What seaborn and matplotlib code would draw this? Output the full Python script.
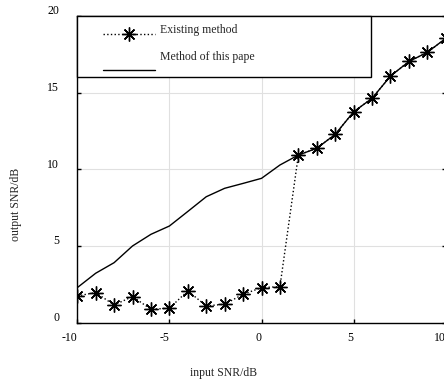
import numpy as np
import pandas as pd
import seaborn as sns
import matplotlib.pyplot as plt
from matplotlib.patches import Rectangle
from matplotlib.transforms import ScaledTranslation

# values
input_snr = list(range(-10, 11))
existing_method = [1.74, 1.96, 1.15, 1.70, 0.87, 0.94, 2.07, 1.09, 1.20, 1.85, 2.28,
                   2.35, 10.93, 11.37, 12.28, 13.75, 14.63, 16.08, 17.03, 17.63, 18.54]
this_method = [2.28, 3.22, 3.91, 5.00, 5.76, 6.30, 7.25, 8.21, 8.76, 9.08, 9.41,
               10.28, 10.93, 11.37, 12.28, 13.75, 14.63, 16.08, 17.03, 17.63, 18.54]
x_ticks = [-10, -5, 0, 5, 10]
y_ticks = [0, 5, 10, 15, 20]
labels = ["Existing method", "Method of this pape"]

sns.set_style("white")
plt.rcParams['font.family'] = ['Liberation Serif', 'DejaVu Serif']
plt.rcParams['font.size'] = 8.5

df = pd.DataFrame({"snr": input_snr, "existing": existing_method, "proposed": this_method})

fig = plt.figure(figsize=(4.44, 3.8), dpi=100)
ax = fig.add_axes([0.174, 0.151, 0.830, 0.807])

sns.lineplot(data=df, x="snr", y="existing", ax=ax, color="black", linestyle=":",
             linewidth=1, marker=(8, 2, 0), markersize=10, markeredgewidth=1,
             markeredgecolor="black", label=labels[0], zorder=3)
sns.lineplot(data=df, x="snr", y="proposed", ax=ax, color="black", linestyle="-",
             linewidth=1, label=labels[1], zorder=2)

ax.set_xlim(-10, 10)
ax.set_ylim(0, 20)
ax.set_xticks(x_ticks)
ax.set_yticks(y_ticks)
ax.set_xticklabels([str(v) for v in x_ticks])
ax.set_yticklabels([str(v) for v in y_ticks])
ax.grid(True, color="#e0e0e0", linewidth=0.8)
ax.set_axisbelow(True)

for s in ax.spines.values():
    s.set_color("black")
    s.set_linewidth(1)

ax.tick_params(axis="both", direction="in", length=3, width=1, colors="black",
               labelsize=8.5, right=True, left=True, bottom=True)
ax.tick_params(axis="x", pad=7)
ax.tick_params(axis="y", pad=13)
for t in ax.get_xticklabels():
    t.set_ha("right")
for t in ax.get_yticklabels():
    t.set_transform(t.get_transform() + ScaledTranslation(0, 0.06, fig.dpi_scale_trans))

ax.set_xlabel("input SNR/dB", fontsize=8.5)
ax.set_ylabel("output SNR/dB", fontsize=8.5)
ax.xaxis.set_label_coords(0.398, -0.144)
ax.yaxis.set_label_coords(-0.150, 0.385)

# legend box
ax.add_patch(Rectangle((0, 0.800), 0.798, 0.200, transform=ax.transAxes,
                       facecolor="white", edgecolor="black", linewidth=1,
                       zorder=4, clip_on=False))
leg = ax.legend(loc="upper left", bbox_to_anchor=(0.0705, 0.957), borderaxespad=0,
                borderpad=0, frameon=False, handlelength=4.4, handletextpad=0.42,
                labelspacing=2.0, fontsize=8.5)
leg.set_zorder(5)
for t, dy in zip(leg.get_texts(), [0.05, 0.14]):
    t.set_transform(t.get_transform() + ScaledTranslation(0, dy, fig.dpi_scale_trans))

fig.savefig("out.png", dpi=100)
